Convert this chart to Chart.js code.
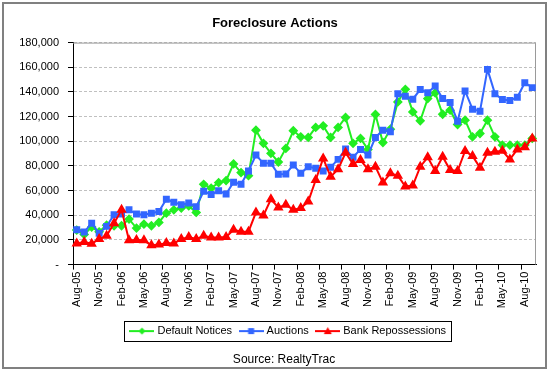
<!DOCTYPE html>
<html>
<head>
<meta charset="utf-8">
<script src="https://cdn.jsdelivr.net/npm/chart.js"></script>
<style>
  body { margin: 0; background: #fff; }
  #wrap { width: 550px; height: 374px; }
</style>
</head>
<body>
<div id="wrap"><canvas id="myChart" width="550" height="374"></canvas></div>
<script>
// Monthly foreclosure actions, Aug-05 .. Sep-10
var months = [
  "Aug-05","Sep-05","Oct-05","Nov-05","Dec-05","Jan-06","Feb-06","Mar-06","Apr-06","May-06","Jun-06","Jul-06",
  "Aug-06","Sep-06","Oct-06","Nov-06","Dec-06","Jan-07","Feb-07","Mar-07","Apr-07","May-07","Jun-07","Jul-07",
  "Aug-07","Sep-07","Oct-07","Nov-07","Dec-07","Jan-08","Feb-08","Mar-08","Apr-08","May-08","Jun-08","Jul-08",
  "Aug-08","Sep-08","Oct-08","Nov-08","Dec-08","Jan-09","Feb-09","Mar-09","Apr-09","May-09","Jun-09","Jul-09",
  "Aug-09","Sep-09","Oct-09","Nov-09","Dec-09","Jan-10","Feb-10","Mar-10","Apr-10","May-10","Jun-10","Jul-10",
  "Aug-10","Sep-10"
];
var defaultNotices = [
  28000,24500,30400,26600,32000,31500,31500,36900,29600,32800,31500,34200,
  41700,44400,45800,47600,42300,65100,62000,66500,68100,81600,74600,72100,
  109000,98300,90200,83200,94200,108500,103600,103100,111200,112500,103100,111200,
  119300,98300,102300,93400,121700,99000,109800,131900,142100,123800,116600,134600,
  139200,121900,125200,113600,117100,103600,106300,117100,103600,96900,96900,96900,
  96900,102300
];
var auctions = [
  28300,26400,33600,25300,31000,40400,41000,44400,41000,40400,41700,43000,
  53000,50600,48500,50000,47000,59500,56800,59800,57300,66800,65100,75900,
  88800,82100,82100,73200,73500,80800,74000,79400,78100,75900,78900,85300,
  93700,87000,93400,88800,103100,109000,107700,138600,136500,134100,141900,139400,
  144800,134600,131400,116300,140800,126000,124400,158300,138600,133800,133000,135700,
  147500,143500
];
var bankReposs = [
  17200,18300,17000,20700,23400,33600,44400,19700,19900,19700,15600,16200,
  17500,17200,20700,22300,20700,23400,22000,22000,22300,28300,26700,26700,
  42300,39800,53000,46300,48500,44400,45800,51100,68600,86100,71300,77300,
  90700,81600,84800,77300,79400,66500,74000,72100,63300,64100,79400,87000,
  75900,87500,76700,75900,92100,88000,78600,90700,91500,92300,85300,93400,
  95100,102300
];
var yTicks = [0,20000,40000,60000,80000,100000,120000,140000,160000,180000];

var FONT = "Arial, 'Liberation Sans', sans-serif";
var green = "#22EE22", blue = "#3366FF", red = "#FF0000";

// small legend swatch: line with the marker in the middle
function swatch(color, shape) {
  var c = document.createElement("canvas");
  c.width = 25; c.height = 10;
  var g = c.getContext("2d");
  g.strokeStyle = color; g.fillStyle = color; g.lineWidth = 2;
  g.beginPath(); g.moveTo(0, 5); g.lineTo(25, 5); g.stroke();
  g.beginPath();
  if (shape == "diamond") { g.moveTo(12.5, 1.5); g.lineTo(16, 5); g.lineTo(12.5, 8.5); g.lineTo(9, 5); }
  else if (shape == "square") { g.rect(9.5, 2, 6, 6); }
  else { g.moveTo(12.5, 1); g.lineTo(16.5, 8); g.lineTo(8.5, 8); }
  g.closePath(); g.fill();
  return c;
}
var swatches = [swatch(green, "diamond"), swatch(blue, "square"), swatch(red, "triangle")];

var framePlugin = {
  id: "frame",
  afterLayout: function(chart) {
    // nudge the text blocks sideways to where they sit in the original
    chart.boxes.forEach(function(b) {
      var dx = 0;
      if (b === chart.legend) dx = 21;
      else if (b === chart.titleBlock) dx = 7;
      else if (b.options && b.options.text === "Source: RealtyTrac") dx = 16;
      if (dx) { b.left += dx; b.right += dx; }
    });
  },
  beforeDatasetsDraw: function(chart) {
    var a = chart.chartArea, ctx = chart.ctx;
    ctx.save();
    ctx.strokeStyle = "#9a9a9a"; ctx.lineWidth = 1;
    ctx.beginPath();
    ctx.moveTo(a.left, a.top + 0.5); ctx.lineTo(a.right - 0.5, a.top + 0.5); ctx.lineTo(a.right - 0.5, a.bottom);
    ctx.stroke();
    ctx.restore();
  },
  afterDraw: function(chart) {
    var ctx = chart.ctx;
    ctx.save();
    ctx.strokeStyle = "#808080"; ctx.lineWidth = 2;
    ctx.strokeRect(3, 3, 543, 365);
    var hb = chart.legend.legendHitBoxes;
    if (hb && hb.length) {
      var last = hb[hb.length - 1];
      var l = hb[0].left - 7.5, r = last.left + last.width + 5;
      var mid = hb[0].top + hb[0].height / 2;
      ctx.strokeStyle = "#000"; ctx.lineWidth = 1;
      ctx.strokeRect(Math.round(l) + 0.5, Math.round(mid - 10) + 0.5, Math.round(r - l), 20);
    }
    ctx.restore();
  }
};

new Chart("myChart", {
  type: "line",
  data: {
    labels: months,
    datasets: [
      { label: "Default Notices", data: defaultNotices, borderColor: green, backgroundColor: green,
        pointStyle: "rectRot", pointRadius: 3.5, borderWidth: 2, order: 3 },
      { label: "Auctions", data: auctions, borderColor: blue, backgroundColor: blue,
        pointStyle: "rect", pointRadius: 3.5, borderWidth: 2, order: 2 },
      { label: "Bank Repossessions", data: bankReposs, borderColor: red, backgroundColor: red,
        pointStyle: "triangle", pointRadius: 4, borderWidth: 2, order: 1 }
    ]
  },
  options: {
    responsive: false,
    animation: false,
    events: [],
    layout: { padding: { left: 0, right: 14, top: 0, bottom: 3 } },
    elements: { line: { tension: 0 }, point: { borderWidth: 0 } },
    plugins: {
      title: {
        display: true, text: "Foreclosure Actions", color: "#000",
        font: { family: FONT, size: 13, weight: "bold" },
        padding: { top: 16, bottom: 11 }
      },
      subtitle: {
        display: true, position: "bottom", text: "Source: RealtyTrac", color: "#000",
        font: { family: FONT, size: 12 },
        padding: { top: 6, bottom: 4 }
      },
      legend: {
        position: "bottom",
        labels: {
          color: "#000", font: { family: FONT, size: 11 },
          usePointStyle: true, pointStyleWidth: 20, padding: 9,
          sort: function(a, b) { return a.datasetIndex - b.datasetIndex; },
          generateLabels: function(chart) {
            return chart.data.datasets.map(function(ds, i) {
              return { text: ds.label, pointStyle: swatches[i], datasetIndex: i,
                       fontColor: "#000", lineWidth: 0, strokeStyle: "transparent", fillStyle: "transparent" };
            });
          }
        }
      },
      tooltip: { enabled: false }
    },
    scales: {
      x: {
        offset: true,
        afterFit: function(s) { s.height = 52; },
        grid: {
          offset: true, drawOnChartArea: false, drawTicks: true, tickLength: 5,
          color: function(c) { return c.index % 3 === 0 ? "#000" : "rgba(0,0,0,0)"; }
        },
        border: { color: "#000", width: 1 },
        ticks: {
          autoSkip: false, maxRotation: 90, minRotation: 90, padding: 2, color: "#000",
          font: { family: FONT, size: 11 },
          callback: function(v, i) { return i % 3 === 0 ? months[i] : ""; }
        }
      },
      y: {
        min: 0, max: 180000,
        afterFit: function(s) { s.width = 73; },
        afterBuildTicks: function(s) { s.ticks = yTicks.map(function(v) { return { value: v }; }); },
        grid: { color: "#c0c0c0", tickColor: "#000", tickLength: 5, lineWidth: 1 },
        border: { color: "#000", width: 1, dash: [3, 2] },
        ticks: {
          color: "#000", padding: 9, font: { family: FONT, size: 11 },
          callback: function(v) { return v === 0 ? "-" : v.toLocaleString("en-US"); }
        }
      }
    }
  },
  plugins: [framePlugin]
});
</script>
</body>
</html>
